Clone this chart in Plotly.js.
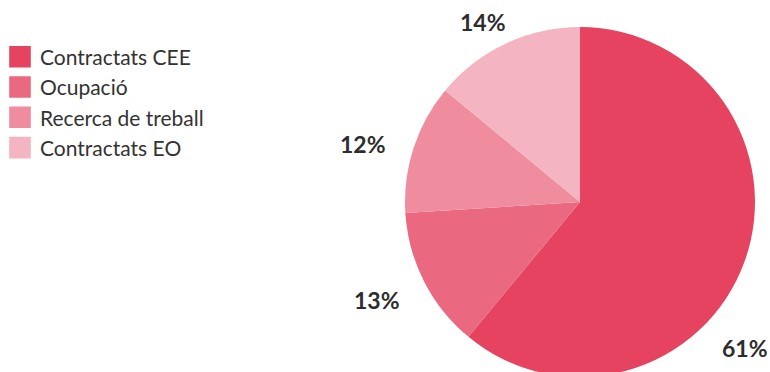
<!DOCTYPE html>
<html><head><meta charset="utf-8">
<script src="https://cdn.plot.ly/plotly-3.0.1.min.js"></script>
<style>html,body{margin:0;padding:0;background:#fff;overflow:hidden}#c{width:770px;height:377px}</style>
</head><body><div id="c"></div>
<script>
const labels = ["Contractats CEE", "Ocupació", "Recerca de treball", "Contractats EO"];
const values = [61, 13, 12, 14];
const colors = ["#e54360", "#ea6880", "#ef8c9e", "#f4b4c1"];

const W = 770, H = 377;
// pie geometry (pixels)
const cx = 580, cy = 202, R = 175;
const labelCy = cy + 5, labelRx = 228, labelRy = 204, maxX = 745, maxY = 356;

const trace = {
  type: "pie",
  labels: labels,
  values: values,
  sort: false,
  direction: "clockwise",
  rotation: 0,
  marker: {colors: colors, line: {width: 0}},
  textinfo: "none",
  hoverinfo: "label+percent",
  domain: {x: [(cx - R) / W, (cx + R) / W], y: [(H - cy - R) / H, (H - cy + R) / H]}
};

// percentage labels placed around the pie from the data
const total = values.reduce((a, b) => a + b, 0);
let cum = 0;
const annotations = values.map((v) => {
  const mid = (cum + v / 2) / total; cum += v;
  let th = mid * 2 * Math.PI; // clockwise from 12 o'clock
  let x = cx + labelRx * Math.sin(th), y = labelCy - labelRy * Math.cos(th);
  // rotate further clockwise until the label fits within the frame
  let guard = 0;
  while ((x > maxX || y > maxY) && guard < 360) {
    th += Math.PI / 180; guard++;
    x = cx + labelRx * Math.sin(th); y = labelCy - labelRy * Math.cos(th);
  }
  return {
    xref: "paper", yref: "paper", x: x / W, y: 1 - y / H,
    xanchor: "center", yanchor: "middle", showarrow: false,
    text: Math.round(v / total * 100) + "%",
    font: {family: "Lato, sans-serif", size: 23, color: "#2d2d2d", weight: "bold"}
  };
});

const layout = {
  width: W, height: H,
  margin: {l: 0, r: 0, t: 0, b: 0},
  paper_bgcolor: "#fff",
  showlegend: true,
  legend: {x: 0, y: 0.903, xanchor: "left", yanchor: "top",
    font: {family: "Lato, sans-serif", size: 21, color: "#333"}},
  annotations: annotations,
  font: {family: "Lato, sans-serif"}
};
Plotly.newPlot("c", [trace], layout, {displayModeBar: false, staticPlot: true}).then(() => {
  document.querySelectorAll(".legend .legendpoints path").forEach(p => {
    const t = p.getAttribute("transform") || "";
    p.setAttribute("transform", t + " scale(1.8)");
  });
});
</script></body></html>
